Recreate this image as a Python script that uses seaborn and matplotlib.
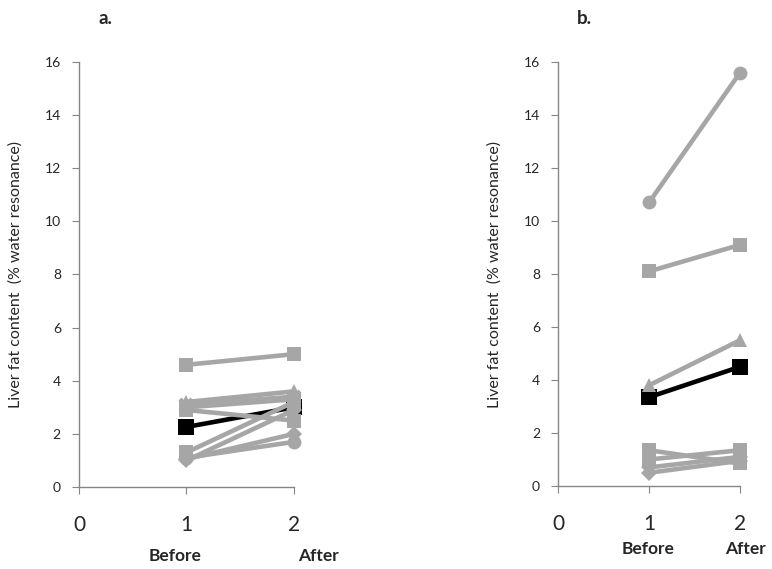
import matplotlib
matplotlib.use('Agg')
import matplotlib.pyplot as plt
import seaborn as sns
import pandas as pd

# time points
times = [1, 2]

# panel a: before / after values, marker per subject
a_before = [2.26, 4.6, 3.2, 3.1, 3.0, 2.9, 1.3, 1.05, 1.1, 1.0]
a_after = [3.0, 5.0, 3.6, 3.4, 3.3, 2.5, 3.2, 2.0, 1.7, 2.9]
a_markers = ['s', 's', '^', 'x', 's', 's', 's', 'D', 'o', 'D']

# panel b
b_before = [3.35, 10.7, 8.1, 3.8, 1.35, 1.0, 0.7, 0.5]
b_after = [4.5, 15.6, 9.1, 5.5, 0.85, 1.35, 1.1, 0.95]
b_markers = ['s', 'o', 's', '^', 's', 's', 'D', 'D']

grey = '#A6A6A6'
spine = '#868686'

sns.set_style('white')
plt.rcParams['font.family'] = ['Lato', 'DejaVu Sans']

fig = plt.figure(figsize=(7.72, 5.69), dpi=100)
ax_a = fig.add_axes([0.1023, 0.1441, 0.2785, 0.747])
ax_b = fig.add_axes([0.7228, 0.1459, 0.2358, 0.745])


def draw(ax, before, after, markers):
    for i in range(len(before)):
        df = pd.DataFrame({'time': times, 'fat': [before[i], after[i]]})
        col = 'black' if i == 0 else grey
        m = markers[i]
        if i == 0:
            ms = 11.5
        elif m == 'x':
            ms = 8
        elif m == 'D':
            ms = 8.5
        else:
            ms = 10
        sns.lineplot(data=df, x='time', y='fat', ax=ax, color=col, marker=m,
                     markersize=ms, markeredgewidth=3 if m == 'x' else 0,
                     markeredgecolor=col, linewidth=3.3, clip_on=False, zorder=3 + i)
    ax.set_xlim(0, 2)
    ax.set_ylim(0, 16)
    ax.set_yticks(range(0, 17, 2))
    ax.set_xticks([0, 1, 2])
    ax.set_xlabel('')
    ax.set_ylabel('Liver fat content  (% water resonance)', fontsize=11.5, labelpad=16)
    for s in ['top', 'right']:
        ax.spines[s].set_visible(False)
    for s in ['left', 'bottom']:
        ax.spines[s].set_color(spine)
        ax.spines[s].set_linewidth(1)
    ax.tick_params(axis='y', left=True, length=5, color=spine, labelsize=10, pad=8)
    ax.tick_params(axis='x', bottom=True, length=5, color=spine, labelsize=15, pad=15)


draw(ax_a, a_before, a_after, a_markers)
draw(ax_b, b_before, b_after, b_markers)

fig.text(0.128, 0.968, 'a.', fontsize=13.5, fontweight='bold', va='center')
fig.text(0.747, 0.968, 'b.', fontsize=13.5, fontweight='bold', va='center')

fig.text(0.227, 0.022, 'Before', fontsize=12.5, fontweight='bold', ha='center', va='center')
fig.text(0.412, 0.022, 'After', fontsize=12.5, fontweight='bold', ha='center', va='center')
fig.text(0.839, 0.035, 'Before', fontsize=12.5, fontweight='bold', ha='center', va='center')
fig.text(0.965, 0.035, 'After', fontsize=12.5, fontweight='bold', ha='center', va='center')

fig.savefig('out.png', dpi=100)
